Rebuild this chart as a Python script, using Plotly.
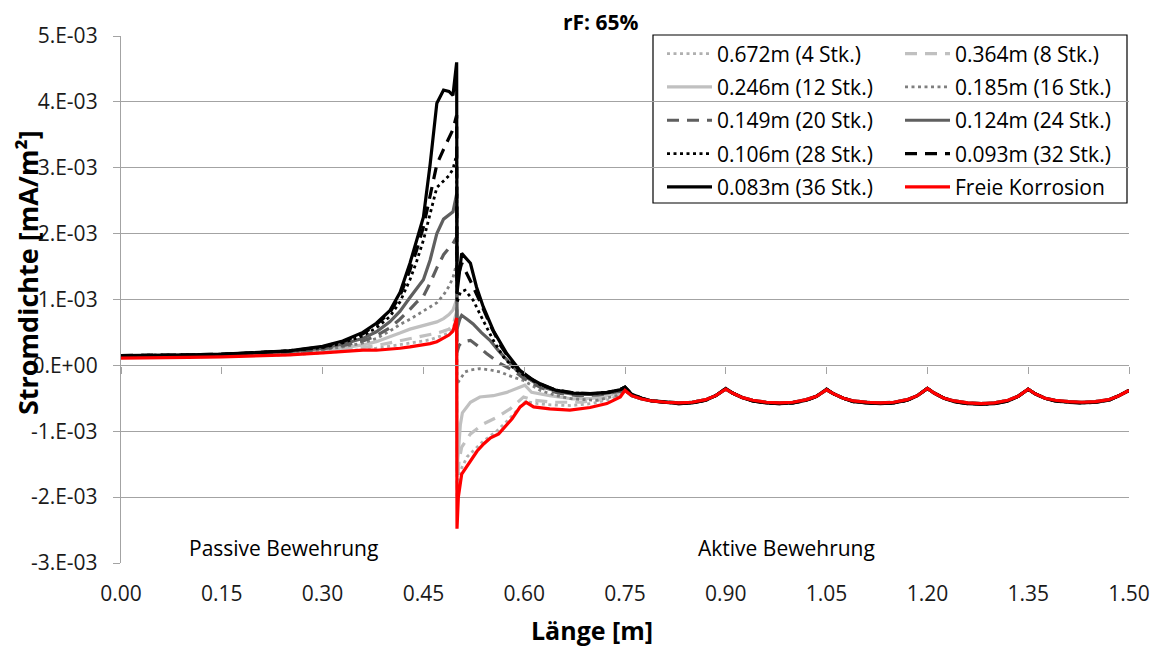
import plotly.graph_objects as go

SCALE = 1e-3  # values below are read in units of 1E-03 mA/m²

# ---------------- passive part (0 ... 0.5 m) ----------------
X_PASSIVE = [0.0, 0.05, 0.10, 0.15, 0.20, 0.25, 0.30, 0.33, 0.36, 0.38, 0.40,
             0.415, 0.43, 0.44, 0.45, 0.46, 0.47, 0.48, 0.488, 0.494, 0.4995]

P4 = [0.12, 0.12, 0.13, 0.14, 0.15, 0.16, 0.19, 0.21, 0.24, 0.26, 0.29, 0.31, 0.33, 0.35, 0.37, 0.39, 0.42, 0.46, 0.50, 0.55, 0.75]
P8 = [0.12, 0.12, 0.13, 0.14, 0.15, 0.17, 0.20, 0.23, 0.27, 0.30, 0.34, 0.37, 0.40, 0.42, 0.44, 0.46, 0.49, 0.52, 0.55, 0.60, 0.82]
P12 = [0.13, 0.13, 0.14, 0.15, 0.16, 0.18, 0.22, 0.26, 0.31, 0.36, 0.43, 0.49, 0.55, 0.58, 0.61, 0.63, 0.66, 0.71, 0.77, 0.84, 1.00]
P16 = [0.13, 0.14, 0.15, 0.16, 0.17, 0.19, 0.24, 0.28, 0.34, 0.41, 0.52, 0.62, 0.70, 0.76, 0.82, 0.88, 0.95, 1.07, 1.20, 1.33, 1.55]
P20 = [0.14, 0.14, 0.15, 0.16, 0.18, 0.20, 0.25, 0.30, 0.37, 0.45, 0.57, 0.70, 0.85, 0.96, 1.05, 1.25, 1.48, 1.68, 1.78, 1.85, 1.95]
P24 = [0.14, 0.14, 0.15, 0.16, 0.18, 0.21, 0.26, 0.32, 0.41, 0.51, 0.66, 0.82, 1.03, 1.17, 1.30, 1.60, 2.00, 2.22, 2.28, 2.33, 2.60]
P28 = [0.15, 0.15, 0.16, 0.17, 0.19, 0.22, 0.27, 0.34, 0.45, 0.57, 0.74, 0.96, 1.30, 1.58, 1.90, 2.30, 2.70, 2.80, 2.88, 2.98, 3.20]
P32 = [0.15, 0.15, 0.16, 0.17, 0.19, 0.22, 0.28, 0.36, 0.48, 0.62, 0.80, 1.05, 1.45, 1.75, 2.10, 2.60, 3.05, 3.28, 3.45, 3.58, 3.80]
P36 = [0.15, 0.15, 0.16, 0.17, 0.19, 0.22, 0.29, 0.37, 0.50, 0.64, 0.83, 1.10, 1.55, 1.88, 2.25, 3.05, 3.98, 4.18, 4.16, 4.10, 4.60]
PFK = [0.11, 0.11, 0.12, 0.13, 0.14, 0.16, 0.19, 0.21, 0.23, 0.23, 0.245, 0.26, 0.28, 0.295, 0.31, 0.33, 0.36, 0.41, 0.46, 0.52, 0.72]

# ---------------- transition part (0.5 ... 0.75 m) ----------------
A4_X = [0.5, 0.502, 0.505, 0.515, 0.524, 0.539, 0.559, 0.579, 0.594, 0.602, 0.62, 0.64, 0.67, 0.70, 0.725, 0.743]
A4_Y = [-2.00, -1.75, -1.60, -1.39, -1.30, -1.15, -1.00, -0.80, -0.63, -0.55, -0.58, -0.60, -0.61, -0.58, -0.52, -0.45]
A8_X = [0.5, 0.503, 0.507, 0.52, 0.539, 0.559, 0.579, 0.592, 0.599, 0.614, 0.643, 0.683, 0.71, 0.73, 0.745]
A8_Y = [-1.85, -1.45, -1.24, -1.04, -0.89, -0.79, -0.66, -0.55, -0.48, -0.53, -0.56, -0.56, -0.53, -0.47, -0.42]
A12_X = [0.5, 0.5025, 0.505, 0.508, 0.515, 0.52, 0.534, 0.554, 0.574, 0.594, 0.601, 0.611, 0.638, 0.673, 0.70, 0.725, 0.743]
A12_Y = [-1.60, -1.25, -0.90, -0.72, -0.62, -0.56, -0.48, -0.46, -0.41, -0.33, -0.30, -0.41, -0.46, -0.51, -0.50, -0.46, -0.41]
A16_X = [0.5, 0.505, 0.512, 0.52, 0.534, 0.55, 0.564, 0.584, 0.599, 0.624, 0.648, 0.673, 0.708, 0.738]
A16_Y = [-0.28, -0.20, -0.10, -0.07, -0.05, -0.07, -0.10, -0.18, -0.23, -0.38, -0.46, -0.51, -0.53, -0.46]
A20_X = [0.5, 0.503, 0.507, 0.515, 0.52, 0.53, 0.544, 0.564, 0.584, 0.60, 0.625, 0.65, 0.68, 0.71, 0.735]
A20_Y = [0.20, 0.30, 0.35, 0.37, 0.38, 0.30, 0.18, 0.03, -0.08, -0.20, -0.34, -0.42, -0.46, -0.45, -0.40]
A24_X = [0.5, 0.504, 0.507, 0.515, 0.524, 0.536, 0.549, 0.562, 0.574, 0.589, 0.60, 0.625, 0.65, 0.675, 0.70, 0.725, 0.74]
A24_Y = [0.55, 0.70, 0.76, 0.70, 0.63, 0.50, 0.38, 0.22, 0.08, -0.08, -0.16, -0.32, -0.40, -0.44, -0.44, -0.42, -0.38]
A28_X = [0.5, 0.505, 0.512, 0.524, 0.539, 0.554, 0.569, 0.585, 0.60, 0.625, 0.65, 0.675, 0.70, 0.725, 0.742]
A28_Y = [0.95, 1.11, 1.14, 0.99, 0.68, 0.38, 0.13, -0.05, -0.15, -0.30, -0.38, -0.42, -0.43, -0.41, -0.37]
A32_X = [0.5, 0.507, 0.515, 0.522, 0.535, 0.55, 0.565, 0.58, 0.595, 0.62, 0.645, 0.675, 0.70, 0.725, 0.742]
A32_Y = [1.30, 1.55, 1.39, 1.24, 0.95, 0.60, 0.30, 0.07, -0.10, -0.27, -0.37, -0.42, -0.43, -0.41, -0.37]
A36_X = [0.5, 0.507, 0.52, 0.529, 0.539, 0.554, 0.574, 0.594, 0.61, 0.624, 0.648, 0.673, 0.698, 0.723, 0.743]
A36_Y = [1.10, 1.70, 1.55, 1.19, 0.89, 0.53, 0.18, -0.08, -0.20, -0.28, -0.38, -0.42, -0.43, -0.41, -0.37]
AFK_X = [0.5, 0.502, 0.507, 0.52, 0.53, 0.54, 0.55, 0.562, 0.572, 0.582, 0.594, 0.603, 0.614, 0.638, 0.668, 0.698, 0.723, 0.743]
AFK_Y = [-2.48, -2.00, -1.65, -1.44, -1.30, -1.19, -1.10, -1.04, -0.93, -0.81, -0.63, -0.56, -0.63, -0.66, -0.68, -0.64, -0.58, -0.48]

# ---------------- active part (0.75 ... 1.5 m) ----------------
TAIL_X = [0.75, 0.76, 0.775, 0.79, 0.81, 0.83, 0.85, 0.87, 0.885, 0.90,
          0.91, 0.925, 0.94, 0.96, 0.98, 1.00, 1.02, 1.035, 1.05,
          1.06, 1.075, 1.09, 1.11, 1.13, 1.15, 1.17, 1.185, 1.20,
          1.21, 1.225, 1.24, 1.26, 1.28, 1.30, 1.32, 1.335, 1.35,
          1.36, 1.375, 1.39, 1.41, 1.43, 1.45, 1.47, 1.485, 1.50]
TAIL_FK = [-0.38, -0.46, -0.51, -0.54, -0.56, -0.57, -0.56, -0.52, -0.46, -0.36,
           -0.42, -0.49, -0.53, -0.56, -0.57, -0.56, -0.52, -0.47, -0.37,
           -0.43, -0.50, -0.54, -0.56, -0.57, -0.56, -0.52, -0.46, -0.35,
           -0.42, -0.50, -0.54, -0.57, -0.58, -0.57, -0.53, -0.47, -0.36,
           -0.43, -0.50, -0.53, -0.55, -0.56, -0.55, -0.52, -0.46, -0.38]
TAIL_36 = [-0.33, -0.44, -0.50, -0.54, -0.56, -0.58, -0.57, -0.53, -0.46, -0.35,
           -0.42, -0.49, -0.54, -0.57, -0.58, -0.57, -0.53, -0.47, -0.36,
           -0.43, -0.50, -0.55, -0.57, -0.58, -0.57, -0.53, -0.46, -0.35,
           -0.42, -0.50, -0.55, -0.58, -0.59, -0.58, -0.54, -0.47, -0.36,
           -0.43, -0.50, -0.54, -0.56, -0.57, -0.56, -0.53, -0.46, -0.38]

NAMES = ["0.672m (4 Stk.)", "0.364m (8 Stk.)", "0.246m (12 Stk.)", "0.185m (16 Stk.)",
         "0.149m (20 Stk.)", "0.124m (24 Stk.)", "0.106m (28 Stk.)", "0.093m (32 Stk.)",
         "0.083m (36 Stk.)", "Freie Korrosion"]

X_TICKS = [0.0, 0.15, 0.30, 0.45, 0.60, 0.75, 0.90, 1.05, 1.20, 1.35, 1.50]
X_TICK_TEXT = ["0.00", "0.15", "0.30", "0.45", "0.60", "0.75", "0.90", "1.05", "1.20", "1.35", "1.50"]
Y_TICKS = [-3e-3, -2e-3, -1e-3, 0.0, 1e-3, 2e-3, 3e-3, 4e-3, 5e-3]
Y_TICK_TEXT = ["-3.E-03", "-2.E-03", "-1.E-03", "0.E+00", "1.E-03", "2.E-03", "3.E-03", "4.E-03", "5.E-03"]

GRID = "#a3a3a3"
FONT = "Open Sans"
FS = 21       # regular text size
DOT = "3px,3.5px"
DASH = "12px,8px"

series = [
    (P4, A4_X, A4_Y, TAIL_FK, "#b0b0b0", DOT, 2.8, "legend"),
    (P8, A8_X, A8_Y, TAIL_FK, "#c0c0c0", DASH, 3.2, "legend2"),
    (P12, A12_X, A12_Y, TAIL_FK, "#c0c0c0", "solid", 3.2, "legend"),
    (P16, A16_X, A16_Y, TAIL_FK, "#7f7f7f", DOT, 2.8, "legend2"),
    (P20, A20_X, A20_Y, TAIL_FK, "#5f5f5f", DASH, 3.2, "legend"),
    (P24, A24_X, A24_Y, TAIL_FK, "#5f5f5f", "solid", 3.2, "legend2"),
    (P28, A28_X, A28_Y, TAIL_36, "#000000", DOT, 2.8, "legend"),
    (P32, A32_X, A32_Y, TAIL_36, "#000000", DASH, 3.2, "legend2"),
    (P36, A36_X, A36_Y, TAIL_36, "#000000", "solid", 3.2, "legend"),
    (PFK, AFK_X, AFK_Y, TAIL_FK, "#ff0000", "solid", 3.2, "legend2"),
]

fig = go.Figure()
for name, (p, ax_, ay_, tail, color, dash, width, leg) in zip(NAMES, series):
    xs = X_PASSIVE + ax_ + TAIL_X
    ys = [v * SCALE for v in (p + ay_ + tail)]
    fig.add_trace(go.Scatter(x=xs, y=ys, mode="lines", name=name, legend=leg,
                             legendgroup=name,
                             line=dict(color=color, dash=dash, width=width)))

# empty trace so that the zero-crossing x axis (ticks at y=0) is drawn
fig.add_trace(go.Scatter(x=[], y=[], xaxis="x2", showlegend=False, hoverinfo="skip"))

# the page shows the figure with an 8px body margin -> figure is 8px smaller
OFF = 8
W, H = 1158 - OFF, 648 - OFF
# plot area in page pixels: x 121..1129, y 36..563
L, R, T, B = 121 - OFF, W - (1129 - OFF), 36 - OFF, H - (563 - OFF)
PW, PH = W - L - R, H - T - B


def px_x(px):
    return (px - OFF - L) / PW


def px_y(py):
    return (H - B - (py - OFF)) / PH


legend_common = dict(xref="paper", yref="paper", xanchor="left", yanchor="top",
                     bgcolor="rgba(0,0,0,0)", borderwidth=0, tracegroupgap=3.0,
                     itemwidth=45, font=dict(family=FONT, size=FS, color="#000"))

fig.update_layout(
    width=W, height=H,
    margin=dict(l=L, r=R, t=T, b=B, autoexpand=False),
    paper_bgcolor="white", plot_bgcolor="white",
    font=dict(family=FONT, size=FS, color="#000"),
    showlegend=True,
    legend=dict(x=px_x(662), y=px_y(33.5), **legend_common),
    legend2=dict(x=px_x(900), y=px_y(33.5), **legend_common),
    xaxis=dict(range=[0, 1.5], tickmode="array", tickvals=X_TICKS, ticktext=X_TICK_TEXT,
               showgrid=False, zeroline=False, showline=False, ticks="",
               ticklabelstandoff=16, tickfont=dict(family=FONT, size=FS, color="#1a1a1a")),
    xaxis2=dict(range=[0, 1.5], overlaying="x", anchor="free", position=0.375,
                tickmode="array", tickvals=X_TICKS, showticklabels=False,
                showline=True, linecolor=GRID, linewidth=1.3,
                ticks="outside", ticklen=7, tickcolor=GRID, tickwidth=1.3,
                showgrid=False, zeroline=False),
    yaxis=dict(range=[-3e-3, 5e-3], tickmode="array", tickvals=Y_TICKS, ticktext=Y_TICK_TEXT,
               showgrid=True, gridcolor=GRID, gridwidth=1.3, zeroline=False,
               showline=True, linecolor=GRID, linewidth=1.3,
               ticks="outside", ticklen=7, tickcolor=GRID, tickwidth=1.3,
               ticklabelstandoff=11, tickfont=dict(family=FONT, size=FS, color="#1a1a1a")),
    shapes=[dict(type="rect", xref="paper", yref="paper",
                 x0=px_x(653), x1=px_x(1127), y0=px_y(203), y1=px_y(35),
                 line=dict(color="#000", width=1.2), fillcolor="white", layer="between")],
    annotations=[
        dict(text="<b>rF: 65%</b>", xref="paper", yref="paper", x=px_x(601), y=px_y(22),
             showarrow=False, font=dict(family=FONT, size=21, color="#000"),
             xanchor="center", yanchor="middle"),
        dict(text="<b>Stromdichte [mA/m²]</b>", xref="paper", yref="paper", x=px_x(27), y=px_y(273),
             textangle=-90, showarrow=False, font=dict(family=FONT, size=27, color="#000"),
             xanchor="center", yanchor="middle"),
        dict(text="<b>Länge [m]</b>", xref="paper", yref="paper", x=px_x(592), y=px_y(630),
             showarrow=False, font=dict(family=FONT, size=25, color="#000"),
             xanchor="center", yanchor="middle"),
        dict(text="Passive Bewehrung", xref="paper", yref="paper", x=px_x(283), y=px_y(548),
             showarrow=False, font=dict(family=FONT, size=FS, color="#000"),
             xanchor="center", yanchor="middle"),
        dict(text="Aktive Bewehrung", xref="paper", yref="paper", x=px_x(786), y=px_y(548),
             showarrow=False, font=dict(family=FONT, size=FS, color="#000"),
             xanchor="center", yanchor="middle"),
    ],
)

fig.write_html("out.html")
